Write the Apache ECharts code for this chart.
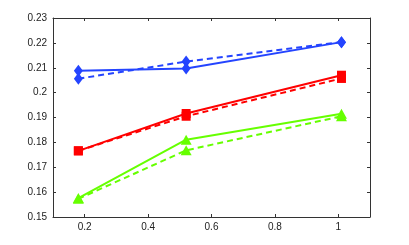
<!DOCTYPE html>
<html><head><meta charset="utf-8">
<script src="https://cdn.jsdelivr.net/npm/echarts@6/dist/echarts.min.js"></script>
<style>html,body{margin:0;padding:0;background:#fff}#c{width:409px;height:245px}</style>
</head><body><div id="c"></div>
<script>
const xValues = [0.18, 0.52, 1.01];
const blueSolid = [0.2088, 0.2097, 0.2203];
const blueDashed = [0.2056, 0.2125, 0.2203];
const redSolid = [0.1766, 0.1916, 0.2070];
const redDashed = [0.1766, 0.1905, 0.2057];
const greenSolid = [0.1576, 0.1811, 0.1915];
const greenDashed = [0.1573, 0.1768, 0.1905];
const xTicks = [0.2, 0.4, 0.6, 0.8, 1];
const yTicks = [0.15, 0.16, 0.17, 0.18, 0.19, 0.2, 0.21, 0.22, 0.23];

const BLUE = '#2444ff', RED = '#ff0000', GREEN = '#66ff00';
function pairs(ys){ return xValues.map((x,i)=>[x, ys[i]]); }
function mk(name, ys, color, dashed, symbol, size){
  return {name, type:'line', data:pairs(ys), symbol, symbolSize:size,
    lineStyle:{color, width:2, type: dashed ? [6,4] : 'solid'},
    itemStyle:{color}, animation:false, z: dashed?2:3};
}
const font = {fontFamily:'Liberation Sans', fontSize:10, color:'#222'};
const axisLine = {show:true, lineStyle:{color:'#333', width:1}};
const tick = {show:true, inside:true, length:3, lineStyle:{color:'#333'}};
const chart = echarts.init(document.getElementById('c'), null, {renderer:'canvas'});
chart.setOption({
  animation:false,
  grid:{left:53, right:39, top:18, bottom:28, show:false},
  xAxis:[
    {type:'value', min:0.1, max:1.1, position:'bottom', axisLine,
     axisTick:Object.assign({customValues:xTicks}, tick),
     axisLabel:Object.assign({customValues:xTicks, margin:5, formatter:v=>String(+v.toFixed(2))}, font),
     splitLine:{show:false}},
    {type:'value', min:0.1, max:1.1, position:'top', axisLine,
     axisTick:Object.assign({customValues:xTicks}, tick),
     axisLabel:{show:false}, splitLine:{show:false}}
  ],
  yAxis:[
    {type:'value', min:0.15, max:0.23, interval:0.01, position:'left', axisLine,
     axisTick:tick,
     axisLabel:Object.assign({margin:6, formatter:v=>String(+v.toFixed(2))}, font),
     splitLine:{show:false}},
    {type:'value', min:0.15, max:0.23, interval:0.01, position:'right', axisLine,
     axisTick:tick, axisLabel:{show:false}, splitLine:{show:false}}
  ],
  series:[
    mk('bd', blueDashed, BLUE, true, 'diamond', [9,12]),
    mk('bs', blueSolid, BLUE, false, 'diamond', [9,12]),
    mk('rd', redDashed, RED, true, 'rect', 9),
    mk('rs', redSolid, RED, false, 'rect', 9),
    mk('gd', greenDashed, GREEN, true, 'triangle', [11,10]),
    mk('gs', greenSolid, GREEN, false, 'triangle', [11,10])
  ]
});
</script></body></html>
